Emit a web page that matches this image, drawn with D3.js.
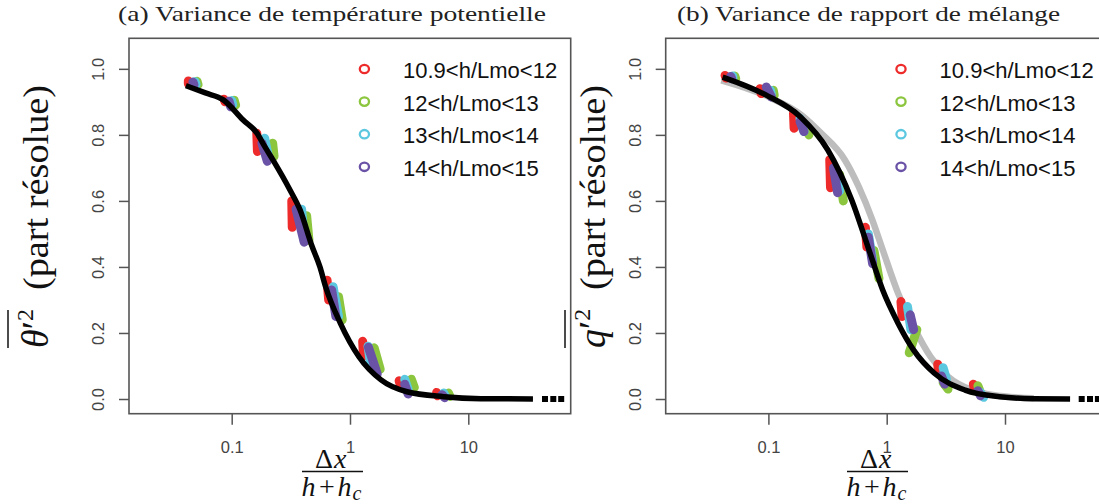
<!DOCTYPE html>
<html><head><meta charset="utf-8">
<script src="https://cdn.jsdelivr.net/npm/d3@7"></script>
<style>body{margin:0;background:#fff}svg{display:block}
.serif{font-family:"Liberation Serif","DejaVu Serif","Times New Roman",serif}
.sans{font-family:"Liberation Sans","Arial","Helvetica",sans-serif}
</style>
</head><body>
<svg id="c" width="1099" height="504"></svg>
<script>
// ---------------- data ----------------
const xTickValues = [0.1, 1, 10];
const yTickValues = [0, 0.2, 0.4, 0.6, 0.8, 1.0];
const legendLabels = ["10.9<h/Lmo<12", "12<h/Lmo<13", "13<h/Lmo<14", "14<h/Lmo<15"];
const panelTitles = ["(a) Variance de température potentielle", "(b) Variance de rapport de mélange"];

// streaks of overlapping points: [x top, y top, x bottom, y bottom] per cluster
const thetaRed    = [[0.043,0.963,0.043,0.955],[0.086,0.908,0.088,0.900],[0.163,0.805,0.165,0.750],[0.322,0.600,0.325,0.520],[0.640,0.360,0.660,0.300],[1.28,0.175,1.30,0.130],[2.60,0.055,2.70,0.035],[5.4,0.020,5.5,0.010]];
const thetaGreen  = [[0.051,0.962,0.052,0.952],[0.105,0.905,0.108,0.890],[0.222,0.775,0.228,0.735],[0.430,0.555,0.450,0.480],[0.800,0.310,0.860,0.240],[1.60,0.155,1.80,0.090],[3.30,0.060,3.50,0.035],[6.8,0.018,7.0,0.008]];
const thetaCyan   = [[0.049,0.961,0.050,0.953],[0.100,0.904,0.102,0.892],[0.190,0.790,0.205,0.730],[0.390,0.575,0.410,0.480],[0.720,0.340,0.800,0.250],[1.42,0.160,1.50,0.100],[2.90,0.060,3.10,0.030],[6.2,0.018,6.4,0.008]];
const thetaPurple = [[0.047,0.960,0.048,0.952],[0.095,0.902,0.098,0.885],[0.180,0.775,0.200,0.720],[0.350,0.575,0.410,0.475],[0.700,0.330,0.760,0.250],[1.43,0.157,1.70,0.076],[2.90,0.045,3.10,0.015],[6.0,0.013,6.3,0.004]];

const qRed    = [[0.043,0.980,0.044,0.972],[0.085,0.940,0.087,0.925],[0.163,0.865,0.165,0.820],[0.330,0.725,0.335,0.640],[0.660,0.520,0.680,0.460],[1.32,0.295,1.35,0.250],[2.70,0.105,2.75,0.080],[5.4,0.045,5.5,0.030]];
const qGreen  = [[0.052,0.978,0.053,0.970],[0.110,0.935,0.112,0.920],[0.200,0.830,0.220,0.800],[0.400,0.680,0.430,0.600],[0.780,0.450,0.860,0.365],[1.80,0.210,1.55,0.140],[3.00,0.050,3.30,0.030],[5.9,0.040,6.2,0.020]];
const qCyan   = [[0.050,0.978,0.050,0.970],[0.104,0.935,0.106,0.922],[0.185,0.850,0.200,0.810],[0.360,0.700,0.400,0.630],[0.700,0.500,0.760,0.420],[1.50,0.280,1.60,0.210],[3.00,0.095,3.20,0.060],[6.2,0.020,6.6,0.005]];
const qPurple = [[0.048,0.977,0.049,0.970],[0.096,0.945,0.106,0.915],[0.185,0.840,0.200,0.810],[0.355,0.700,0.385,0.625],[0.700,0.490,0.760,0.410],[1.58,0.255,1.69,0.210],[2.90,0.070,3.10,0.045],[5.9,0.025,6.2,0.010]];

// fitted curves
const thetaFitX = [0.041,0.060,0.085,0.125,0.163,0.190,0.225,0.311,0.378,0.475,0.557,0.622,0.830,1.19,1.83,3.03,6.2,12.8,35.2];
const thetaFitY = [0.949,0.927,0.906,0.845,0.806,0.765,0.722,0.633,0.573,0.465,0.400,0.340,0.229,0.128,0.058,0.022,0.007,0.001,0.000];
const qFitX = [0.041,0.095,0.186,0.317,0.506,0.708,0.925,1.25,1.69,2.53,4.6,9.0,17.5,35.5];
const qFitY = [0.975,0.921,0.855,0.755,0.603,0.452,0.330,0.229,0.148,0.078,0.027,0.007,0.001,0.000];
const qGrayX = [0.040,0.100,0.190,0.277,0.443,0.580,0.757,0.925,1.25,1.69,2.35,3.3,5.27,7.9,17.5];
const qGrayY = [0.965,0.915,0.860,0.806,0.724,0.643,0.542,0.452,0.320,0.219,0.128,0.068,0.027,0.012,0.002];
const tailX = [44.5, 52.3, 61.0];
const tailY = [0, 0, 0];

// ---------------- drawing ----------------
const colors = ["#EE2B2B", "#8CC63F", "#5CC8E0", "#6A52A6"];
const svg = d3.select("#c");

const panels = [
  {left:129, titleX:332, titleW:428, labX:332.5, yLabX:48, legX:364.4, streaks:[thetaRed,thetaGreen,thetaCyan,thetaPurple], fitX:thetaFitX, fitY:thetaFitY, sym:"θ", gray:null},
  {left:665.7, titleX:868.5, titleW:383, labX:877.5, yLabX:605, legX:901, streaks:[qRed,qGreen,qCyan,qPurple], fitX:qFitX, fitY:qFitY, sym:"q", gray:[qGrayX,qGrayY]}
];
const W = 441.7, plotTop = 38.3, plotBottom = 413.7;

panels.forEach((p, pi) => {
  const x = d3.scaleLog().domain([Math.pow(10,-1.8681), Math.pow(10,1.8656)]).range([p.left, p.left+W]);
  const y = d3.scaleLinear().domain([-0.0445, 1.0925]).range([plotBottom, plotTop]);
  const g = svg.append("g");

  g.append("text").attr("class","serif").attr("x", p.titleX).attr("y", 21).attr("text-anchor","middle")
    .attr("font-size", 21).attr("fill","#222")
    .attr("textLength", p.titleW).attr("lengthAdjust","spacingAndGlyphs").text(panelTitles[pi]);

  const clipId = "clip"+pi;
  svg.append("clipPath").attr("id", clipId).append("rect")
    .attr("x", p.left).attr("y", plotTop).attr("width", W).attr("height", plotBottom-plotTop);
  const plot = g.append("g").attr("clip-path", `url(#${clipId})`);

  const line = d3.line().x(d => x(d[0])).y(d => y(d[1])).curve(d3.curveMonotoneX);
  if (p.gray) {
    plot.append("path").datum(p.gray[0].map((v,i) => [v, p.gray[1][i]]))
      .attr("d", line).attr("fill","none").attr("stroke","#BDBDBD").attr("stroke-width",6.5)
      .attr("stroke-linejoin","round");
  }
  p.streaks.forEach((s, si) => {
    plot.selectAll(null).data(s).enter().append("line")
      .attr("x1", d => x(d[0])).attr("y1", d => y(d[1]))
      .attr("x2", d => x(d[2])).attr("y2", d => y(d[3]))
      .attr("stroke", colors[si]).attr("stroke-width", 9).attr("stroke-linecap","round");
  });
  plot.append("path").datum(p.fitX.map((v,i) => [v, p.fitY[i]]))
    .attr("d", line).attr("fill","none").attr("stroke","#000").attr("stroke-width",5.5)
    .attr("stroke-linejoin","round");
  plot.selectAll(null).data(tailX.map((v,i)=>[v,tailY[i]])).enter().append("rect")
    .attr("x", d => x(d[0])-3).attr("y", d => y(d[1])-3).attr("width",6).attr("height",6).attr("fill","#000");

  const ax = g.append("g").attr("transform", `translate(0,${plotBottom})`)
    .call(d3.axisBottom(x).tickValues(xTickValues).tickFormat(d => d < 1 ? d3.format(".1f")(d) : d3.format("d")(d)).tickSize(11));
  ax.select(".domain").remove();
  ax.selectAll("line").attr("stroke","#555").attr("stroke-width",1.5);
  ax.selectAll("text").attr("class","sans").attr("font-family",null).attr("y", 39.6).attr("dy", 0).attr("font-size", 16.5).attr("fill","#444");

  const ay = g.append("g").attr("transform", `translate(${p.left},0)`)
    .call(d3.axisLeft(y).tickValues(yTickValues).tickFormat(d3.format(".1f")).tickSize(10));
  ay.select(".domain").remove();
  ay.selectAll("line").attr("stroke","#555").attr("stroke-width",1.5);
  ay.selectAll("text").attr("class","sans").attr("x", 0).attr("dy", 0).attr("text-anchor","middle")
    .attr("transform","translate(-25,0) rotate(-90)")
    .attr("font-size", 16.5).attr("fill","#444");
  ax.attr("font-family", null); ay.attr("font-family", null);

  g.append("rect").attr("x", p.left).attr("y", plotTop).attr("width", W).attr("height", plotBottom-plotTop)
    .attr("fill","none").attr("stroke","#555").attr("stroke-width",1.6);

  const leg = g.append("g");
  legendLabels.forEach((lab, i) => {
    const ly = 69 + i*32.6;
    leg.append("ellipse").attr("cx", p.legX).attr("cy", ly).attr("rx",4.6).attr("ry",4.2)
      .attr("fill","none").attr("stroke", colors[i]).attr("stroke-width",2.3);
    leg.append("text").attr("class","sans").attr("x", p.legX + 38.6).attr("y", ly + 1.5).attr("dy","0.35em")
      .attr("font-size", 22).attr("fill","#111").text(lab);
  });

  // x label: fraction
  const xl = g.append("g").attr("transform", `translate(${p.labX},0)`);
  const num = xl.append("text").attr("class","serif").attr("y", 468).attr("font-size", 28).attr("fill","#111");
  num.append("tspan").attr("x", -17.5).text("Δ");
  num.append("tspan").attr("x", 1.5).style("font-style","italic").text("x");
  xl.append("line").attr("x1",-30.5).attr("x2",30.5).attr("y1",471.5).attr("y2",471.5)
    .attr("stroke","#111").attr("stroke-width",1.4);
  const den = xl.append("text").attr("class","serif").attr("y", 496).attr("font-size", 28).attr("fill","#111");
  den.append("tspan").attr("x", -31).style("font-style","italic").text("h");
  den.append("tspan").attr("x", -13.5).text("+");
  den.append("tspan").attr("x", 5).style("font-style","italic").text("h");
  den.append("tspan").attr("x", 20).attr("dy", 4).attr("font-size", 20).style("font-style","italic").text("c");

  // y label (rotated)
  const yl = g.append("g").attr("transform", `translate(${p.yLabX},348) rotate(-90)`);
  const sym = yl.append("text").attr("class","serif").attr("x", 0).attr("y", 0).attr("font-size", 38).attr("fill","#111");
  sym.append("tspan").style("font-style","italic").text(p.sym);
  sym.append("tspan").text("′");
  sym.append("tspan").attr("font-size", 24).attr("dy", -15).text("2");
  yl.append("line").attr("x1", 0).attr("x2", 38).attr("y1", -40).attr("y2", -40)
    .attr("stroke","#111").attr("stroke-width",1.5);
  yl.append("text").attr("class","serif").attr("x", 58).attr("y", 0).attr("font-size", 35).attr("fill","#111")
    .attr("textLength", 205).attr("lengthAdjust","spacingAndGlyphs").text("(part résolue)");
});
</script>
</body></html>
